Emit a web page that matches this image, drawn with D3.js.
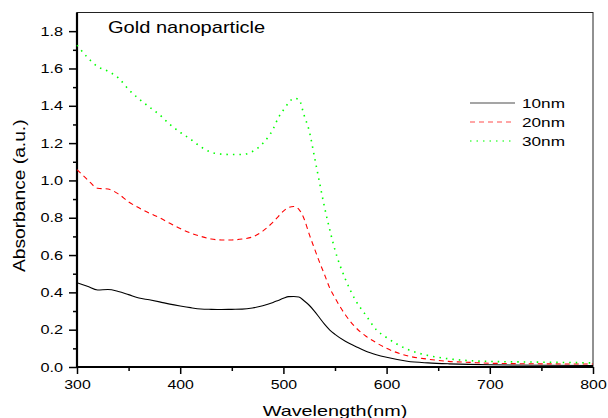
<!DOCTYPE html>
<html>
<head>
<meta charset="UTF-8">
<script src="https://d3js.org/d3.v7.min.js"></script>
<style>
  body { margin: 0; background: #fff; }
  text { font-family: "Liberation Sans", Arial, sans-serif; fill: #000; }
</style>
</head>
<body>
<svg id="chart" width="608" height="418"></svg>
<script>
// wavelength samples (nm)
const wavelengths = [300, 310, 320, 330, 340, 350, 360, 370, 380, 390, 400, 410, 420, 430, 440, 450, 460, 470, 480,
                     490, 495, 500, 505, 510, 515, 520, 525, 530, 535, 540, 545, 550, 560, 570, 580, 590, 600,
                     620, 640, 660, 680, 700, 750, 800];

// absorbance for each particle size
const abs10 = [0.452, 0.433, 0.413, 0.415, 0.405, 0.388, 0.370, 0.360, 0.349, 0.337, 0.327, 0.318, 0.311, 0.309, 0.308, 0.309, 0.310, 0.316, 0.328,
               0.346, 0.357, 0.368, 0.377, 0.378, 0.375, 0.355, 0.331, 0.300, 0.264, 0.228, 0.198, 0.175, 0.138, 0.110, 0.084, 0.066, 0.052,
               0.031, 0.022, 0.017, 0.014, 0.012, 0.009, 0.008];
const abs20 = [1.058, 1.005, 0.958, 0.954, 0.928, 0.885, 0.853, 0.825, 0.800, 0.770, 0.742, 0.718, 0.700, 0.686, 0.681, 0.681, 0.686, 0.697, 0.728,
               0.777, 0.806, 0.835, 0.855, 0.860, 0.845, 0.795, 0.712, 0.636, 0.562, 0.493, 0.422, 0.370, 0.280, 0.212, 0.165, 0.130, 0.100,
               0.060, 0.042, 0.030, 0.025, 0.020, 0.017, 0.016];
const abs30 = [1.725, 1.660, 1.610, 1.585, 1.550, 1.487, 1.437, 1.394, 1.352, 1.300, 1.258, 1.221, 1.180, 1.151, 1.141, 1.139, 1.139, 1.155, 1.198,
               1.275, 1.335, 1.377, 1.415, 1.440, 1.435, 1.350, 1.266, 1.129, 0.989, 0.853, 0.734, 0.627, 0.472, 0.357, 0.277, 0.200, 0.158,
               0.095, 0.062, 0.044, 0.034, 0.030, 0.026, 0.022];

const seriesNames = ['10nm', '20nm', '30nm'];
const seriesColors = ['#000000', '#ff0000', '#00ff00'];
const seriesDash = ['none', '5,4', '1.5,5'];

const xTicks = [300, 400, 500, 600, 700, 800];
const xMinorTicks = [350, 450, 550, 650, 750];
const yTicks = [0, 0.2, 0.4, 0.6, 0.8, 1.0, 1.2, 1.4, 1.6, 1.8];
const yMinorTicks = [0.1, 0.3, 0.5, 0.7, 0.9, 1.1, 1.3, 1.5, 1.7];

const svg = d3.select('#chart');
const margin = {top: 12.5, right: 15, bottom: 51, left: 77};
const width = +svg.attr('width');
const height = +svg.attr('height');

const x = d3.scaleLinear().domain([300, 800]).range([margin.left, width - margin.right]);
const y = d3.scaleLinear().domain([0, 1.9]).range([height - margin.bottom, margin.top]);

// widen text along its direction (the source font runs wide)
function stretch(sel, k) {
  sel.each(function() {
    const w = this.getComputedTextLength();
    d3.select(this).attr('textLength', w * k).attr('lengthAdjust', 'spacingAndGlyphs');
  });
}

// axes
const xAxis = svg.append('g')
  .attr('transform', `translate(0,${y(0)})`)
  .call(d3.axisBottom(x).tickValues(xTicks).tickSize(7).tickPadding(6).tickFormat(d3.format('d')));
svg.append('g')
  .attr('transform', `translate(0,${y(0)})`)
  .call(d3.axisBottom(x).tickValues(xMinorTicks).tickSize(4).tickFormat(''));
const yAxis = svg.append('g')
  .attr('transform', `translate(${x(300)},0)`)
  .call(d3.axisLeft(y).tickValues(yTicks).tickSize(8).tickPadding(6).tickFormat(d3.format('.1f')));
svg.append('g')
  .attr('transform', `translate(${x(300)},0)`)
  .call(d3.axisLeft(y).tickValues(yMinorTicks).tickSize(4).tickFormat(''));

svg.selectAll('.domain').remove();
svg.selectAll('.tick line').attr('stroke', '#000').attr('stroke-width', 1.5);
svg.selectAll('.tick text')
  .attr('font-size', 13)
  .attr('font-family', '"Liberation Sans", Arial, sans-serif')
  .attr('fill', '#000');
stretch(xAxis.selectAll('.tick text'), 1.22);
stretch(yAxis.selectAll('.tick text'), 1.25);

// frame
svg.append('rect')
  .attr('x', x(300)).attr('y', y(1.9))
  .attr('width', x(800) - x(300)).attr('height', y(0) - y(1.9))
  .attr('fill', 'none').attr('stroke', '#222').attr('stroke-width', 1);
svg.append('line')
  .attr('x1', x(300)).attr('x2', x(300)).attr('y1', y(1.9)).attr('y2', y(0) + 1)
  .attr('stroke', '#000').attr('stroke-width', 2.2);
svg.append('line')
  .attr('x1', x(300) - 1).attr('x2', x(800)).attr('y1', y(0)).attr('y2', y(0))
  .attr('stroke', '#000').attr('stroke-width', 2.2);

// curves
const series = [abs10, abs20, abs30];
const lineGen = d3.line()
  .x(d => x(d[0]))
  .y(d => y(d[1]))
  .curve(d3.curveMonotoneX);

svg.append('g').selectAll('path')
  .data(series)
  .join('path')
  .attr('fill', 'none')
  .attr('stroke', (d, i) => seriesColors[i])
  .attr('stroke-width', (d, i) => i === 2 ? 1.6 : 1.1)
  .attr('stroke-dasharray', (d, i) => seriesDash[i])
  .attr('d', vals => lineGen(wavelengths.map((w, j) => [w, vals[j]])));

// legend
const legend = svg.append('g').attr('transform', 'translate(470,103)');
const rows = legend.selectAll('g')
  .data(seriesNames)
  .join('g')
  .attr('transform', (d, i) => `translate(0,${i * 19})`);
rows.append('line')
  .attr('x1', 0).attr('x2', 45)
  .attr('stroke', (d, i) => seriesColors[i])
  .attr('stroke-opacity', 0.7)
  .attr('stroke-width', (d, i) => i === 2 ? 1.6 : 1.1)
  .attr('stroke-dasharray', (d, i) => seriesDash[i]);
rows.append('text')
  .attr('x', 52).attr('y', 4.8)
  .attr('font-size', 13)
  .text(d => d)
  .call(stretch, 1.32);

// annotation
svg.append('text')
  .attr('x', 108).attr('y', 33)
  .attr('font-size', 17)
  .text('Gold nanoparticle')
  .call(stretch, 1.18);

// axis titles
svg.append('text')
  .attr('x', (x(300) + x(800)) / 2).attr('y', 416)
  .attr('text-anchor', 'middle')
  .attr('font-size', 15)
  .text('Wavelength(nm)')
  .call(stretch, 1.32);
svg.append('text')
  .attr('transform', `translate(25,${(y(0) + y(1.9)) / 2 + 6}) rotate(-90)`)
  .attr('text-anchor', 'middle')
  .attr('font-size', 16)
  .text('Absorbance (a.u.)')
  .call(stretch, 1.2);
</script>
</body>
</html>
